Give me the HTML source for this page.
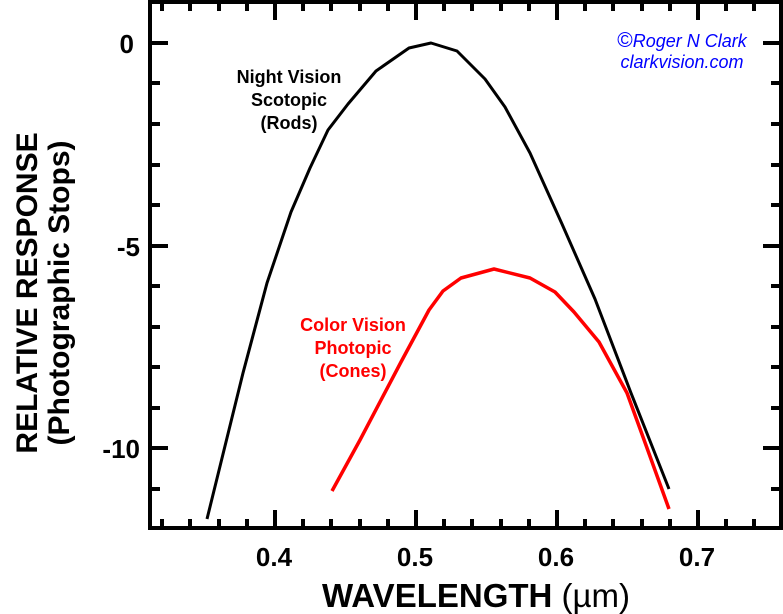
<!DOCTYPE html>
<html><head><meta charset="utf-8"><style>
html,body{margin:0;padding:0;background:#fff;}
svg{display:block;font-family:"Liberation Sans",Arial,sans-serif;}
</style></head><body>
<svg width="783" height="614" viewBox="0 0 783 614" xmlns="http://www.w3.org/2000/svg">
<g stroke="#000" stroke-width="4" fill="none">
<path d="M150,0 V528 H781 V0"/>
<line x1="148" y1="2" x2="783" y2="2"/>
</g>
<g stroke="#000" stroke-width="4">
<g id="xt">
<line x1="162" y1="528" x2="162" y2="519"/><line x1="190" y1="528" x2="190" y2="519"/><line x1="219" y1="528" x2="219" y2="519"/><line x1="247" y1="528" x2="247" y2="519"/>
<line x1="275" y1="528" x2="275" y2="510"/>
<line x1="303" y1="528" x2="303" y2="519"/><line x1="331" y1="528" x2="331" y2="519"/><line x1="360" y1="528" x2="360" y2="519"/><line x1="388" y1="528" x2="388" y2="519"/>
<line x1="416" y1="528" x2="416" y2="510"/>
<line x1="444" y1="528" x2="444" y2="519"/><line x1="472" y1="528" x2="472" y2="519"/><line x1="501" y1="528" x2="501" y2="519"/><line x1="529" y1="528" x2="529" y2="519"/>
<line x1="557" y1="528" x2="557" y2="510"/>
<line x1="585" y1="528" x2="585" y2="519"/><line x1="613" y1="528" x2="613" y2="519"/><line x1="642" y1="528" x2="642" y2="519"/><line x1="670" y1="528" x2="670" y2="519"/>
<line x1="698" y1="528" x2="698" y2="510"/>
<line x1="726" y1="528" x2="726" y2="519"/><line x1="754" y1="528" x2="754" y2="519"/>
</g>
<use href="#xt" transform="translate(0,530) scale(1,-1)"/>
<g id="yt">
<line x1="150" y1="43" x2="168" y2="43"/>
<line x1="150" y1="83" x2="160" y2="83"/><line x1="150" y1="124" x2="160" y2="124"/><line x1="150" y1="165" x2="160" y2="165"/><line x1="150" y1="205" x2="160" y2="205"/>
<line x1="150" y1="246" x2="168" y2="246"/>
<line x1="150" y1="286" x2="160" y2="286"/><line x1="150" y1="327" x2="160" y2="327"/><line x1="150" y1="367" x2="160" y2="367"/><line x1="150" y1="408" x2="160" y2="408"/>
<line x1="150" y1="448" x2="168" y2="448"/>
<line x1="150" y1="489" x2="160" y2="489"/>
</g>
<use href="#yt" transform="translate(931,0) scale(-1,1)"/>
</g>
<g font-weight="bold" font-size="26" fill="#000">
<text x="134" y="53" text-anchor="end">0</text>
<text x="140" y="256" text-anchor="end">-5</text>
<text x="140" y="458" text-anchor="end">-10</text>
<text x="274" y="566" text-anchor="middle">0.4</text>
<text x="415" y="566" text-anchor="middle">0.5</text>
<text x="556" y="566" text-anchor="middle">0.6</text>
<text x="697" y="566" text-anchor="middle">0.7</text>
</g>
<text x="476" y="607" text-anchor="middle" font-weight="bold" font-size="33">WAVELENGTH <tspan font-weight="normal">(µm)</tspan></text>
<g transform="translate(37,293) rotate(-90)" font-weight="bold" font-size="30" text-anchor="middle">
<text x="0" y="0">RELATIVE RESPONSE</text>
<text x="0" y="32">(Photographic Stops)</text>
</g>
<polyline fill="none" stroke="#000" stroke-width="3" stroke-linejoin="round" points="207,519 243,373 267,283 291,212 310,168 328,130 348,104 376,71 409,48 431,43 457,51 485,79 505,107 530,153 562,224 595,299 631,393 669,489"/>
<polyline fill="none" stroke="#f00" stroke-width="3.5" stroke-linejoin="round" points="332,491 360,440 401,362 429,310 443,291 461,278 494,269 530,278 555,292 574,312 599,342 627,393 647,448 669,509"/>
<g font-weight="bold" font-size="18" text-anchor="middle">
<text x="289" y="83">Night Vision</text>
<text x="289" y="106">Scotopic</text>
<text x="289" y="129">(Rods)</text>
<g fill="#f00">
<text x="353" y="331">Color Vision</text>
<text x="353" y="354">Photopic</text>
<text x="353" y="377">(Cones)</text>
</g>
</g>
<g fill="#00f" font-style="italic" font-size="18" text-anchor="middle">
<text x="682" y="47"><tspan font-size="21" font-style="normal">©</tspan>Roger N Clark</text>
<text x="682" y="68">clarkvision.com</text>
</g>
</svg>
</body></html>
